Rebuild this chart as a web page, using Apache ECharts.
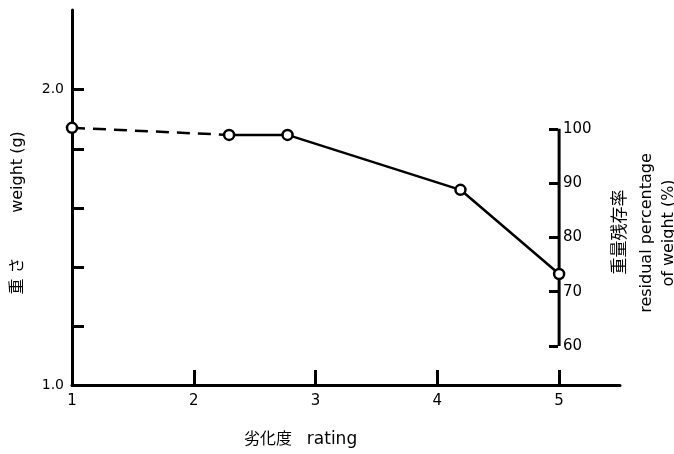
<!DOCTYPE html>
<html>
<head>
<meta charset="utf-8">
<script src="https://cdn.jsdelivr.net/npm/echarts@6/dist/echarts.min.js"></script>
<style>
  html, body { margin: 0; padding: 0; background: #fff; }
  #chart-show { width: 674px; height: 454px; }
</style>
</head>
<body>
<div id="chart-show"></div>
<script>
// 劣化度 (rating) と 重さ (g)
var ratings = [1, 2.29, 2.77, 4.19, 5];
var weights = [1.871, 1.847, 1.847, 1.661, 1.376];
var xLabels = [1, 2, 3, 4, 5];
var xTicks = [2, 3, 4, 5];
var weightTicks = [1.0, 1.2, 1.4, 1.6, 1.8, 2.0];
var weightLabels = [1.0, 2.0];
var percentTicks = [60, 70, 80, 90, 100];

window.onload = all;
function all(){
    myLineChart();
}
function myLineChart(){
    var chart = echarts.init(document.getElementById('chart-show'));
    var font = 'DejaVu Sans, Noto Sans CJK JP, sans-serif';

    var pts = ratings.map(function (r, i) { return [r, weights[i]]; });
    var dashedPart = pts.slice(0, 2);
    var solidPart = pts.slice(1);
    var pctLine = [[5, percentTicks[0]], [5, percentTicks[percentTicks.length - 1]]];

    var option = {
        animation: false,
        textStyle: { fontFamily: font, color: '#000' },
        grid: { left: 72, right: 54, top: 10, bottom: 69 },
        xAxis: {
            type: 'value', min: 1, max: 5.5,
            axisLine: { onZero: false, lineStyle: { color: '#000', width: 3 } },
            axisTick: { inside: true, length: 15, customValues: xTicks, lineStyle: { color: '#000', width: 3 } },
            axisLabel: { customValues: xLabels, color: '#000', fontSize: 15, margin: 9, fontFamily: font },
            splitLine: { show: false }
        },
        yAxis: [{
            type: 'value', min: 1, max: 2.27, position: 'left',
            axisLine: { show: true, lineStyle: { color: '#000', width: 3 } },
            axisTick: { show: true, inside: true, length: 12, customValues: weightTicks, lineStyle: { color: '#000', width: 3 } },
            axisLabel: { customValues: weightLabels, color: '#000', fontSize: 14, margin: 8, fontFamily: font,
                formatter: function (v) { return v.toFixed(1); } },
            splitLine: { show: false }
        }, {
            type: 'value', min: 52.8, max: 121.9, position: 'right', offset: -62,
            axisLine: { show: false },
            axisTick: { show: true, inside: true, length: 9, customValues: percentTicks, lineStyle: { color: '#000', width: 3 } },
            axisLabel: { customValues: percentTicks, color: '#000', fontSize: 15, margin: 5, fontFamily: font },
            splitLine: { show: false }
        }],
        series: [{
            type: 'line', yAxisIndex: 1, data: pctLine, symbol: 'none', silent: true,
            lineStyle: { color: '#000', width: 3 }, z: 1
        }, {
            type: 'line', data: dashedPart, symbol: 'none',
            lineStyle: { color: '#000', width: 2.5, type: [13, 8] }, z: 2
        }, {
            type: 'line', data: pts, symbol: 'circle', symbolSize: 10,
            itemStyle: { color: '#fff', borderColor: '#000', borderWidth: 2.5 },
            lineStyle: { width: 0, opacity: 0 }, z: 4
        }, {
            type: 'line', data: solidPart, symbol: 'none',
            lineStyle: { color: '#000', width: 2.5 }, z: 3
        }],
        graphic: [
            { type: 'text', x: 18, y: 172, rotation: Math.PI / 2,
              style: { text: 'weight (g)', font: '16px ' + font, fill: '#000', align: 'center', verticalAlign: 'middle' } },
            { type: 'text', x: 18, y: 276, rotation: Math.PI / 2,
              style: { text: '重 さ', font: '16px ' + font, fill: '#000', align: 'center', verticalAlign: 'middle' } },
            { type: 'text', x: 621, y: 232, rotation: Math.PI / 2,
              style: { text: '重量残存率', font: '17px ' + font, fill: '#000', align: 'center', verticalAlign: 'middle' } },
            { type: 'text', x: 647, y: 233, rotation: Math.PI / 2,
              style: { text: 'residual percentage', font: '16px ' + font, fill: '#000', align: 'center', verticalAlign: 'middle' } },
            { type: 'text', x: 669, y: 233, rotation: Math.PI / 2,
              style: { text: 'of weight (%)', font: '16px ' + font, fill: '#000', align: 'center', verticalAlign: 'middle' } },
            { type: 'text', x: 268, y: 440,
              style: { text: '劣化度', font: '16px ' + font, fill: '#000', align: 'center', verticalAlign: 'middle' } },
            { type: 'text', x: 332, y: 440,
              style: { text: 'rating', font: '17px ' + font, fill: '#000', align: 'center', verticalAlign: 'middle' } }
        ]
    };
    chart.setOption(option);
    window.onresize = function () { chart.resize(); };
}
</script>
</body>
</html>
